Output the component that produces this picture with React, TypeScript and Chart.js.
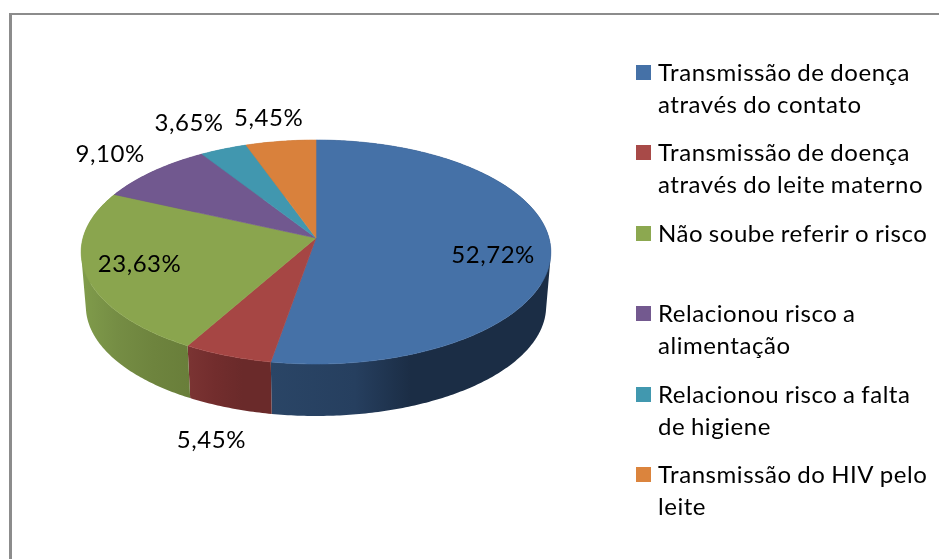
import React, { useEffect, useRef } from "react";
import { Chart, registerables } from "chart.js";

Chart.register(...registerables);

const categories: string[][] = [
  ["Transmissão de doença", "através do contato"],
  ["Transmissão de doença", "através do leite materno"],
  ["Não soube referir o risco"],
  ["Relacionou risco a", "alimentação"],
  ["Relacionou risco a falta", "de higiene"],
  ["Transmissão do HIV pelo", "leite"],
];
const values = [52.72, 5.45, 23.63, 9.1, 3.65, 5.45];
const valueLabels = ["52,72%", "5,45%", "23,63%", "9,10%", "3,65%", "5,45%"];

const topColors = ["#4571A7", "#A64644", "#8AA54E", "#71588F", "#4197AF", "#D9813C"];
const legendColors = ["#4571A7", "#A84A48", "#8CA850", "#73598F", "#4198AF", "#DB843D"];
const sideStops: string[][] = [
  ["#2A4566", "#263F5F", "#1B2D45", "#1B2D45"],
  ["#7B3433", "#722D2D", "#6A2A2A", "#6A2A2A"],
  ["#809C4B", "#758D44", "#6E843E", "#697E3A"],
  ["#54406A", "#54406A", "#54406A", "#54406A"],
  ["#2F7083", "#2F7083", "#2F7083", "#2F7083"],
  ["#A0602C", "#A0602C", "#A0602C", "#A0602C"],
];
const labelOffsets: [number, number][] = [
  [-57.6, 7.5], [-16, 85], [54, -9], [-43, -17], [-34.5, -26], [-12, -23],
];

const FONT = '24px Lato';
const LETTER_SPACING = "0.55px";
const WORD_SPACING = "-1px";
const LINE_H = 32;
const LEGEND_BOX_X = 636;
const LEGEND_TEXT_X = 658;
const LEGEND_BOX = 15;
const legendBoxTops = [65, 145, 226, 306, 387, 467];

// perspective of the tilted disc
const K = 0.125;
const ASPECT = 110.25 / 233;
const BOTTOM_SCALE = 0.98;
const BOTTOM_DROP = 54.5;

function project(arc: any, a: number, scale = 1, drop = 0): [number, number] {
  const X = Math.cos(a);
  const Y = -Math.sin(a);
  const d = 1 + K * Y;
  return [
    arc.x + (arc.outerRadius * scale * X) / d,
    arc.y + drop - (arc.outerRadius * ASPECT * scale * Y) / d,
  ];
}

const pie3d = {
  id: "pie3d",
  beforeDatasetDraw() {
    return false;
  },
  afterDatasetsDraw(chart: any) {
    const ctx: CanvasRenderingContext2D = chart.ctx;
    const arcs = chart.getDatasetMeta(0).data as any[];
    const steps = (arc: any) => Math.max(8, Math.ceil((arc.endAngle - arc.startAngle) * 80));

    // outer wall: narrow quads of one winding joined in one path, so the swept silhouette has no seams
    arcs.forEach((arc, i) => {
      const n = steps(arc);
      const top: [number, number][] = [];
      const bottom: [number, number][] = [];
      for (let s = 0; s <= n; s++) {
        const a = arc.startAngle + ((arc.endAngle - arc.startAngle) * s) / n;
        top.push(project(arc, a));
        bottom.push(project(arc, a, BOTTOM_SCALE, BOTTOM_DROP));
      }
      const xs = top.concat(bottom).map((p) => p[0]);
      const x0 = Math.min(...xs);
      const x1 = Math.max(...xs);
      const g = ctx.createLinearGradient(x0, 0, x1, 0);
      const stops = i === 0 ? [0, 0.3, 0.5, 1] : [0, 0.33, 0.66, 1];
      sideStops[i].forEach((c, j) => g.addColorStop(stops[j], c));
      ctx.fillStyle = g;
      ctx.beginPath();
      for (let s = 0; s < n; s++) {
        const q = [top[s], top[s + 1], bottom[s + 1], bottom[s]];
        let area = 0;
        q.forEach((p, j) => {
          const o = q[(j + 1) % 4];
          area += p[0] * o[1] - o[0] * p[1];
        });
        if (area < 0) q.reverse();
        q.forEach((p, j) => (j ? ctx.lineTo(p[0], p[1]) : ctx.moveTo(p[0], p[1])));
        ctx.closePath();
      }
      ctx.fill("nonzero");
    });

    // top face
    arcs.forEach((arc, i) => {
      const n = steps(arc);
      ctx.beginPath();
      ctx.moveTo(arc.x, arc.y);
      for (let s = 0; s <= n; s++) {
        const p = project(arc, arc.startAngle + ((arc.endAngle - arc.startAngle) * s) / n);
        ctx.lineTo(p[0], p[1]);
      }
      ctx.closePath();
      ctx.fillStyle = topColors[i];
      ctx.strokeStyle = topColors[i];
      ctx.lineWidth = 0.6;
      ctx.fill();
      ctx.stroke();
    });

    // value labels
    ctx.font = FONT;
    (ctx as any).letterSpacing = LETTER_SPACING;
    (ctx as any).wordSpacing = WORD_SPACING;
    ctx.fillStyle = "#000";
    ctx.textAlign = "center";
    ctx.textBaseline = "middle";
    arcs.forEach((arc, i) => {
      const p = project(arc, (arc.startAngle + arc.endAngle) / 2);
      ctx.fillText(valueLabels[i], p[0] + labelOffsets[i][0], p[1] + labelOffsets[i][1]);
    });

    // legend
    ctx.textAlign = "left";
    categories.forEach((lines, i) => {
      const top = legendBoxTops[i];
      ctx.fillStyle = legendColors[i];
      ctx.fillRect(LEGEND_BOX_X, top, LEGEND_BOX, LEGEND_BOX);
      ctx.fillStyle = "#000";
      lines.forEach((t, j) => {
        ctx.fillText(t, LEGEND_TEXT_X, top + LEGEND_BOX / 2 + 1 + j * LINE_H);
      });
    });
    (ctx as any).letterSpacing = "0px";
    (ctx as any).wordSpacing = "0px";
  },
};

export default function App() {
  const ref = useRef<HTMLCanvasElement>(null);
  useEffect(() => {
    const chart = new Chart(ref.current!, {
      type: "pie",
      data: {
        labels: categories.map((c) => c.join(" ")),
        datasets: [{ data: values, backgroundColor: topColors, borderWidth: 0 }],
      },
      options: {
        animation: false,
        responsive: false,
        radius: 233,
        layout: { padding: { right: 307, bottom: 83 } },
        plugins: { legend: { display: false }, tooltip: { enabled: false } },
      } as any,
      plugins: [pie3d],
    });
    return () => chart.destroy();
  }, []);
  return (
    <div style={{ position: "fixed", left: 0, top: 0, width: 939, height: 559, background: "#fff", overflow: "hidden" }}>
      <canvas ref={ref} width={939} height={559} style={{ position: "absolute", left: 0, top: 0, display: "block" }} />
      <div style={{ position: "absolute", left: 9, top: 13, right: -10, bottom: -10, borderLeft: "3px solid #8C8C8C", borderTop: "2.5px solid #8C8C8C" }} />
    </div>
  );
}
